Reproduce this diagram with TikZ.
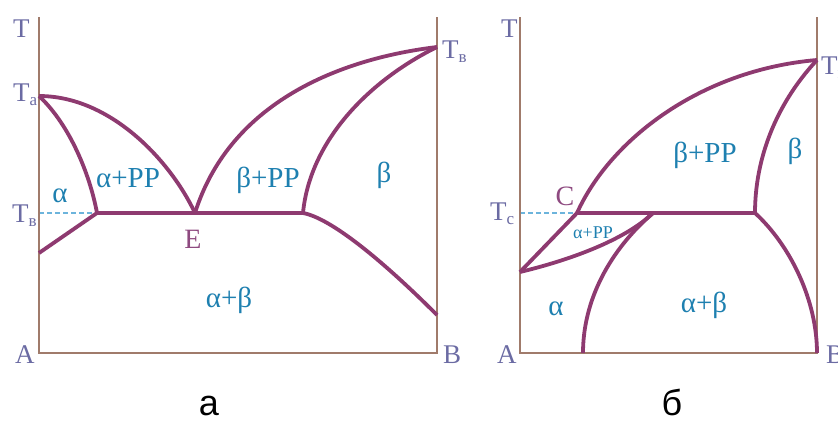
\documentclass[tikz,border=0pt]{standalone}
\usepackage{fontspec}
\setmainfont{Liberation Serif}
\newfontfamily\capfont{Liberation Sans}
\usetikzlibrary{positioning}

\definecolor{axiscol}{HTML}{A07B6B}
\definecolor{curvecol}{HTML}{8E3A70}
\definecolor{phasecol}{HTML}{1E80B0}
\definecolor{namecol}{HTML}{6B6BA3}
\definecolor{pointcol}{HTML}{8E4A80}
\definecolor{guidecol}{HTML}{6CB4DC}

\newcommand{\lowidx}[1]{\raisebox{-4pt}{\fontsize{17}{17}\selectfont #1}}

\begin{document}
\begin{tikzpicture}[x=1pt, y=-1pt,
      axis/.style={draw=axiscol, line width=1.5pt},
      curve/.style={draw=curvecol, line width=3.8pt, line join=round},
      guide/.style={draw=guidecol, line width=1.2pt, dash pattern=on 5pt off 3pt},
      phase/.style={text=phasecol, font=\fontsize{29}{31}\selectfont, inner sep=0pt, anchor=base},
      tname/.style={text=namecol, font=\fontsize{27}{29}\selectfont, inner sep=0pt, anchor=base west},
      pname/.style={text=pointcol, font=\fontsize{28}{30}\selectfont, inner sep=0pt, anchor=base},
      caption/.style={font=\capfont\fontsize{36}{38}\selectfont, inner sep=0pt, anchor=base}]
    \useasboundingbox (0,0) rectangle (838,421);

    % diagram a
    \coordinate (topA1) at (39,17);
    \coordinate (topB1) at (437,17);
    \coordinate (A1) at (39,353);
    \coordinate (B1) at (437,353);
    \coordinate (Ta) at (39,96);
    \coordinate (Tb1) at (437,47);
    \coordinate (Te) at (39,213);
    \coordinate (E) at (195,213);
    \coordinate (eutL) at (97,213);
    \coordinate (eutR) at (303,213);
    \coordinate (solvA) at (39,253);
    \coordinate (solvB) at (437,315);

    \draw[guide] (Te) -- (eutL);
    \draw[axis] (topA1) -- (A1) -- (B1) -- (topB1);
    \draw[curve] (Ta) .. controls (110,96) and (170,160) .. (E);
    \draw[curve] (Ta) .. controls (70,125) and (90,175) .. (eutL);
    \draw[curve] (E) .. controls (228,108) and (330,60) .. (Tb1);
    \draw[curve] (eutR) .. controls (310,140) and (370,80) .. (Tb1);
    \draw[curve] (solvA) -- (eutL) -- (eutR) .. controls (330,218) and (380,258) .. (solvB);

    \node[tname] (T1) at (13,37) {T};
    \node[tname] (Ta lab) at (13,101) {T\lowidx{a}};
    \node[tname] (Te lab) at (12,222) {T\lowidx{в}};
    \node[tname] (Tb1 lab) at (442,58) {T\lowidx{в}};
    \node[tname] (A1 lab) at (15,363) {A};
    \node[tname] (B1 lab) at (443,363) {B};
    \node[pname] (E lab) at (193,248) {E};
    \node[phase] (alpha1) at (60,202) {α};
    \node[phase] (alphaL1) at (128,187) {α+PP};
    \node[phase] (betaL1) at (268,187) {β+PP};
    \node[phase] (beta1) at (384,182) {β};
    \node[phase] (ab1) at (229,307) {α+β};
    \node[caption] (cap a) at (209,415) {а};

    % diagram b
    \coordinate (topA2) at (520,17);
    \coordinate (topB2) at (817,17);
    \coordinate (A2) at (520,353);
    \coordinate (B2) at (817,353);
    \coordinate (Tb2) at (817,60);
    \coordinate (Tc) at (520,213);
    \coordinate (C) at (577,213);
    \coordinate (perR) at (755,213);
    \coordinate (perM) at (653,213);
    \coordinate (solvA2) at (520,272);
    \coordinate (footAB) at (583,353);

    \draw[guide] (Tc) -- (C);
    \draw[axis] (topA2) -- (A2) -- (B2) -- (topB2);
    \draw[curve] (C) .. controls (610,140) and (700,70) .. (Tb2);
    \draw[curve] (perR) .. controls (755,160) and (775,105) .. (Tb2);
    \draw[curve] (solvA2) -- (C) -- (perR);
    \draw[curve] (solvA2) .. controls (570,260) and (625,240) .. (perM);
    \draw[curve] (perM) .. controls (610,250) and (583,300) .. (footAB);
    \draw[curve] (perR) .. controls (790,245) and (817,300) .. (B2);

    \node[tname] (T2) at (501,37) {T};
    \node[tname] (Tc lab) at (490,220) {T\lowidx{c}};
    \node[tname] (Tb2 lab) at (821,74) {T\lowidx{в}};
    \node[tname] (A2 lab) at (497,363) {A};
    \node[tname] (B2 lab) at (826,363) {B};
    \node[pname] (C lab) at (565,205) {C};
    \node[phase] (betaL2) at (705,162) {β+PP};
    \node[phase] (beta2) at (795,158) {β};
    \node[phase, font=\fontsize{18}{20}\selectfont] (alphaL2) at (593,238) {α+PP};
    \node[phase] (alpha2) at (556,315) {α};
    \node[phase] (ab2) at (704,312) {α+β};
    \node[caption] (cap b) at (672,415) {б};
  \end{tikzpicture}
\end{document}
